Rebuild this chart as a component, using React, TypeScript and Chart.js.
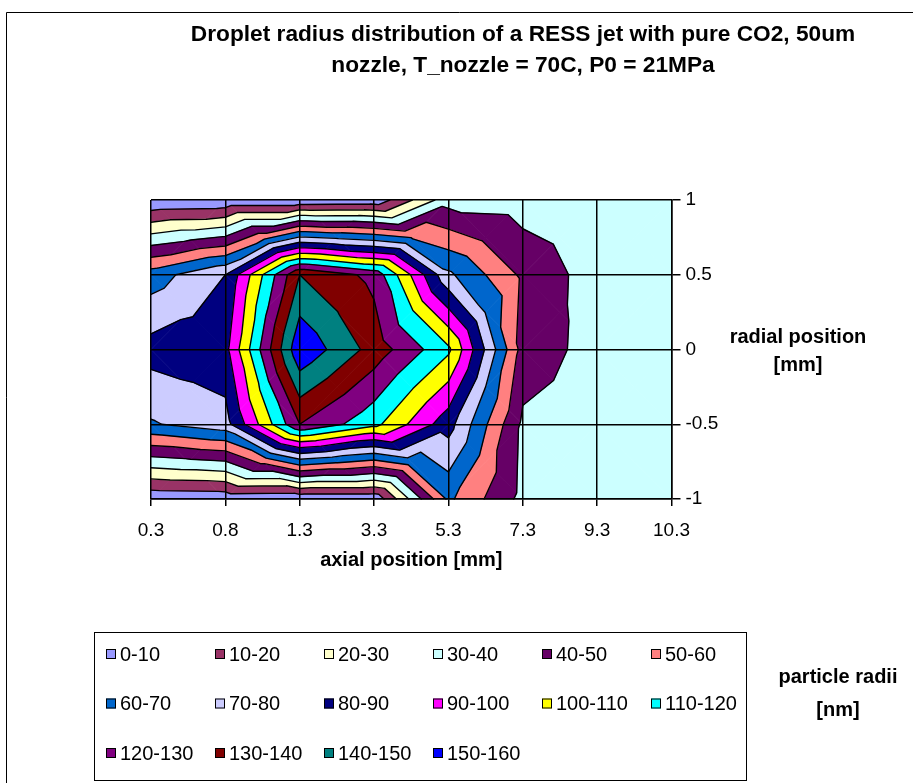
import React, { useEffect, useRef } from 'react';
import { Chart, registerables } from 'chart.js';

Chart.register(...registerables);

// ---------------- data ----------------
const axialPositions = ['0.3', '0.8', '1.3', '3.3', '5.3', '7.3', '9.3', '10.3'];
const radialPositions = [1, 0.5, 0, -0.5, -1];
// particle radius [nm] at each radial position (1 .. -1), one list per axial position
const radiiAt0_3 = [1, 65, 84, 69, 2];
const radiiAt0_8 = [2, 80, 87, 76, 3];
const radiiAt1_3 = [2, 140, 158, 130, 2];
const radiiAt3_3 = [3, 127, 136, 113, 2];
const radiiAt5_3 = [36, 72, 112, 84, 62];
const radiiAt7_3 = [35, 48, 46, 38, 37];
const radiiAt9_3 = [35, 35, 36, 35, 34];
const radiiAt10_3 = [33, 34, 34, 33, 32];

const bandLabels = [
  '0-10', '10-20', '20-30', '30-40', '40-50', '50-60', '60-70', '70-80',
  '80-90', '90-100', '100-110', '110-120', '120-130', '130-140', '140-150', '150-160',
];
const bandColors = [
  '#9999FF', '#993366', '#FFFFCC', '#CCFFFF', '#660066', '#FF8080', '#0066CC', '#CCCCFF',
  '#000080', '#FF00FF', '#FFFF00', '#00FFFF', '#800080', '#800000', '#008080', '#0000FF',
];

const titleLines = ['Droplet radius distribution of a RESS jet with pure CO2, 50um', 'nozzle, T_nozzle = 70C, P0 = 21MPa'];
const xTitle = 'axial position [mm]';
const yTitleLines = ['radial position', '[mm]'];
const legendTitleLines = ['particle radii', '[nm]'];

const FONT = '"Liberation Sans", Arial, sans-serif';

type P = { x: number; y: number; z: number };

function clip(poly: P[], level: number, keepAbove: boolean): P[] {
  const out: P[] = [];
  for (let i = 0; i < poly.length; i++) {
    const a = poly[i];
    const b = poly[(i + 1) % poly.length];
    const ina = keepAbove ? a.z >= level : a.z <= level;
    const inb = keepAbove ? b.z >= level : b.z <= level;
    if (ina) out.push(a);
    if (ina !== inb) {
      const t = (level - a.z) / (b.z - a.z);
      out.push({ x: a.x + t * (b.x - a.x), y: a.y + t * (b.y - a.y), z: level });
    }
  }
  return out;
}

const contourPlugin = {
  id: 'contourBands',
  beforeDraw(chart: any) {
    const ctx: CanvasRenderingContext2D = chart.ctx;
    const xs = chart.scales.x;
    const ys = chart.scales.y;
    const grid = [radiiAt0_3, radiiAt0_8, radiiAt1_3, radiiAt3_3, radiiAt5_3, radiiAt7_3, radiiAt9_3, radiiAt10_3];
    const px = grid.map((_, i) => xs.getPixelForValue(i));
    const py = radialPositions.map((r) => ys.getPixelForValue(r));
    const bands = bandLabels.map((l) => l.split('-').map(Number));

    ctx.save();
    ctx.fillStyle = '#ffffff';
    ctx.fillRect(0, 0, chart.width, chart.height);

    const tris: P[][] = [];
    for (let i = 0; i < grid.length - 1; i++) {
      for (let j = 0; j < radialPositions.length - 1; j++) {
        const tl = { x: px[i], y: py[j], z: grid[i][j] };
        const tr = { x: px[i + 1], y: py[j], z: grid[i + 1][j] };
        const br = { x: px[i + 1], y: py[j + 1], z: grid[i + 1][j + 1] };
        const bl = { x: px[i], y: py[j + 1], z: grid[i][j + 1] };
        const c = { x: (tl.x + tr.x) / 2, y: (tl.y + bl.y) / 2, z: (tl.z + tr.z + br.z + bl.z) / 4 };
        tris.push([tl, tr, c], [tr, br, c], [br, bl, c], [bl, tl, c]);
      }
    }

    ctx.lineJoin = 'round';
    for (const tri of tris) {
      bands.forEach(([lo, hi], k) => {
        const poly = clip(clip(tri, lo, true), hi, false);
        if (poly.length < 3) return;
        ctx.beginPath();
        ctx.moveTo(poly[0].x, poly[0].y);
        for (let m = 1; m < poly.length; m++) ctx.lineTo(poly[m].x, poly[m].y);
        ctx.closePath();
        ctx.fillStyle = bandColors[k];
        ctx.strokeStyle = bandColors[k];
        ctx.lineWidth = 0.8;
        ctx.fill();
        ctx.stroke();
      });
    }

    ctx.strokeStyle = '#000000';
    ctx.lineWidth = 1.4;
    ctx.lineCap = 'round';
    for (let k = 1; k < bands.length; k++) {
      const level = bands[k][0];
      ctx.beginPath();
      for (const tri of tris) {
        const pts: { x: number; y: number }[] = [];
        for (let e = 0; e < 3; e++) {
          const a = tri[e];
          const b = tri[(e + 1) % 3];
          if ((a.z >= level) !== (b.z >= level)) {
            const t = (level - a.z) / (b.z - a.z);
            pts.push({ x: a.x + t * (b.x - a.x), y: a.y + t * (b.y - a.y) });
          }
        }
        if (pts.length === 2) {
          ctx.moveTo(pts[0].x, pts[0].y);
          ctx.lineTo(pts[1].x, pts[1].y);
        }
      }
      ctx.stroke();
    }
    ctx.restore();
  },
  afterDraw(chart: any) {
    const ctx: CanvasRenderingContext2D = chart.ctx;
    ctx.save();
    ctx.fillStyle = '#000';
    ctx.textBaseline = 'middle';
    ctx.textAlign = 'center';

    // title
    ctx.font = `bold 22.7px ${FONT}`;
    ctx.fillText(titleLines[0], 523, 35);
    ctx.fillText(titleLines[1], 523, 66);

    // axis titles
    ctx.font = `bold 20px ${FONT}`;
    ctx.fillText(xTitle, (chart.chartArea.left + chart.chartArea.right) / 2, 560);
    ctx.fillText(yTitleLines[0], 798, 337);
    ctx.fillText(yTitleLines[1], 798, 365);
    ctx.fillText(legendTitleLines[0], 838, 677);
    ctx.fillText(legendTitleLines[1], 838, 710);

    // legend
    ctx.strokeStyle = '#000';
    ctx.lineWidth = 1;
    ctx.strokeRect(94.5, 632.5, 652, 148);
    ctx.font = `20px ${FONT}`;
    ctx.textAlign = 'left';
    bandLabels.forEach((label, k) => {
      const col = k % 6;
      const row = Math.floor(k / 6);
      const x = 106 + col * 109;
      const y = 654 + row * 49.5;
      ctx.fillStyle = bandColors[k];
      ctx.fillRect(x, y - 5, 10, 10);
      ctx.strokeStyle = '#000';
      ctx.strokeRect(x + 0.5, y - 4.5, 9, 9);
      ctx.fillStyle = '#000';
      ctx.fillText(label, x + 14, y + 1);
    });

    // chart area border
    ctx.strokeStyle = '#000';
    ctx.lineWidth = 1;
    ctx.beginPath();
    ctx.moveTo(6.5, 783);
    ctx.lineTo(6.5, 12.5);
    ctx.lineTo(913, 12.5);
    ctx.stroke();
    ctx.restore();
  },
};

export default function App() {
  const ref = useRef<HTMLCanvasElement | null>(null);

  useEffect(() => {
    if (!ref.current) return;
    const chart = new Chart(ref.current, {
      type: 'scatter',
      data: {
        datasets: bandLabels.map((label, k) => ({
          label,
          data: [],
          backgroundColor: bandColors[k],
          borderColor: bandColors[k],
        })),
      },
      options: {
        responsive: false,
        animation: false,
        events: [],
        layout: { padding: { left: 151, top: 200, right: 181.5, bottom: 234 } },
        plugins: {
          legend: { display: false },
          tooltip: { enabled: false },
          title: { display: false },
        },
        scales: {
          x: {
            type: 'linear',
            position: 'bottom',
            min: 0,
            max: axialPositions.length - 1,
            afterFit: (s: any) => { s.height = 50; },
            ticks: {
              stepSize: 1,
              autoSkip: false,
              maxRotation: 0,
              padding: 13,
              color: '#000',
              font: { family: FONT, size: 19 },
              callback: (v: any) => axialPositions[Number(v)] ?? '',
            },
            grid: { color: '#000', lineWidth: 1.5, tickLength: 7 },
            border: { color: '#000', width: 1.5 },
          },
          y: {
            type: 'linear',
            position: 'right',
            min: -1,
            max: 1,
            afterFit: (s: any) => { s.width = 60; },
            ticks: {
              stepSize: 0.5,
              padding: 5,
              color: '#000',
              font: { family: FONT, size: 19 },
              callback: (v: any) => String(v),
            },
            grid: { color: '#000', lineWidth: 1.5, tickLength: 9 },
            border: { color: '#000', width: 1.5 },
          },
        },
      },
      plugins: [contourPlugin],
    });
    return () => chart.destroy();
  }, []);

  return (
    <div style={{ position: 'fixed', left: 0, top: 0, width: 913, height: 783, background: '#fff' }}>
      <canvas ref={ref} width={913} height={783} style={{ width: 913, height: 783, display: 'block' }} />
    </div>
  );
}
